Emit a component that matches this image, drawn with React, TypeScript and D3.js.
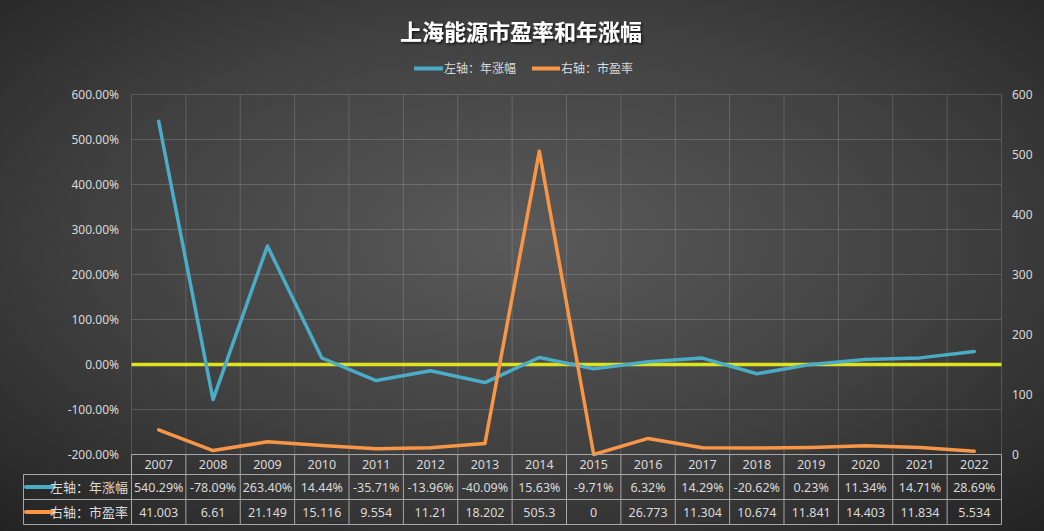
import React from 'react';
import * as d3 from 'd3';

const years = ['2007', '2008', '2009', '2010', '2011', '2012', '2013', '2014', '2015', '2016', '2017', '2018', '2019', '2020', '2021', '2022'];
// 左轴：年涨幅 (%)
const yoy = [540.29, -78.09, 263.4, 14.44, -35.71, -13.96, -40.09, 15.63, -9.71, 6.32, 14.29, -20.62, 0.23, 11.34, 14.71, 28.69];
// 右轴：市盈率
const pe = [41.003, 6.61, 21.149, 15.116, 9.554, 11.21, 18.202, 505.3, 0, 26.773, 11.304, 10.674, 11.841, 14.403, 11.834, 5.534];
const leftTicks = [-200, -100, 0, 100, 200, 300, 400, 500, 600];
const rightTicks = [0, 100, 200, 300, 400, 500, 600];
const seriesNames = ['左轴：年涨幅', '右轴：市盈率'];

const W = 1044;
const H = 531;
const plot = { left: 131.5, right: 1001.5, top: 94.5, bottom: 454.5 };
const rowH = [20, 25, 25];
const tableLeft = 23.5;

const BLUE = '#4bacc6';
const ORANGE = '#f79646';
const YELLOW = '#dde31f';
const TXT = '#d9d9d9';
const GRID = 'rgba(255,255,255,0.16)';
const FONT = '"Noto Sans", "Noto Sans CJK SC", sans-serif';

const App: React.FC = () => {
  const x = d3.scaleBand<string>().domain(years).range([plot.left, plot.right]);
  const yL = d3.scaleLinear().domain([-200, 600]).range([plot.bottom, plot.top]);
  const yR = d3.scaleLinear().domain([0, 600]).range([plot.bottom, plot.top]);
  const cx = (d: string) => (x(d) as number) + x.bandwidth() / 2;

  const blueLine = d3.line<number>().x((_, i) => cx(years[i])).y(d => yL(d))(yoy) as string;
  const orangeLine = d3.line<number>().x((_, i) => cx(years[i])).y(d => yR(d))(pe) as string;

  // plain hyphen minus, like the original
  const fmtPct = (v: number) => v.toFixed(2) + '%';
  const r0 = plot.bottom;
  const r1 = r0 + rowH[0];
  const r2 = r1 + rowH[1];
  const r3 = r2 + rowH[2];

  const rows = [
    { name: seriesNames[0], color: BLUE, labels: yoy.map(fmtPct), top: r1 },
    { name: seriesNames[1], color: ORANGE, labels: pe.map(v => String(v)), top: r2 },
  ];

  return (
    <div style={{ position: 'absolute', left: 0, top: 0 }}>
      <svg width={W} height={H} style={{ display: 'block', fontFamily: FONT }}>
        <defs>
          <radialGradient id="bg" cx="50%" cy="45%" r="75%">
            <stop offset="0%" stopColor="#5a5a5a" />
            <stop offset="55%" stopColor="#404040" />
            <stop offset="100%" stopColor="#222222" />
          </radialGradient>
          <filter id="tshadow" x="-10%" y="-30%" width="120%" height="160%">
            <feDropShadow dx="1.5" dy="1.5" stdDeviation="1.2" floodColor="#000" floodOpacity="0.7" />
          </filter>
        </defs>
        <rect width={W} height={H} fill="url(#bg)" />

        {/* title */}
        <text x={521} y={40} textAnchor="middle" fill="#ffffff" fontSize={22} fontWeight={700}
          fontFamily='"Noto Sans CJK SC", sans-serif' filter="url(#tshadow)">上海能源市盈率和年涨幅</text>

        {/* legend */}
        <g fontSize={12} fill={TXT} fontFamily='"Noto Sans CJK SC", sans-serif'>
          <line x1={414} x2={443} y1={68.5} y2={68.5} stroke={BLUE} strokeWidth={4} />
          <text x={444} y={73}>{seriesNames[0]}</text>
          <line x1={532} x2={560} y1={68.5} y2={68.5} stroke={ORANGE} strokeWidth={4} />
          <text x={561} y={73}>{seriesNames[1]}</text>
        </g>

        {/* grid */}
        <g stroke={GRID} strokeWidth={1}>
          {leftTicks.map(t => (
            <line key={'h' + t} x1={plot.left} x2={plot.right} y1={yL(t)} y2={yL(t)} />
          ))}
          {years.map(d => (
            <line key={'v' + d} x1={x(d) as number} x2={x(d) as number} y1={plot.top} y2={plot.bottom} />
          ))}
          <line x1={plot.right} x2={plot.right} y1={plot.top} y2={plot.bottom} />
        </g>

        {/* left axis */}
        <g fontSize={12} fill={TXT} textAnchor="end">
          {leftTicks.map(t => (
            <text key={t} x={119} y={yL(t) + 4}>{fmtPct(t)}</text>
          ))}
        </g>
        {/* right axis */}
        <g fontSize={12} fill={TXT} textAnchor="start">
          {rightTicks.map(t => (
            <text key={t} x={1012} y={yR(t) + 4}>{t}</text>
          ))}
        </g>

        {/* zero line */}
        <line x1={plot.left} x2={plot.right} y1={yL(0)} y2={yL(0)} stroke={YELLOW} strokeWidth={3.5} />

        {/* series */}
        <path d={blueLine} fill="none" stroke={BLUE} strokeWidth={3.5} strokeLinejoin="round" strokeLinecap="round" />
        <path d={orangeLine} fill="none" stroke={ORANGE} strokeWidth={3.5} strokeLinejoin="round" strokeLinecap="round" />

        {/* data table */}
        <g stroke="#a6a6a6" strokeWidth={1} fill="none">
          <line x1={plot.left} x2={plot.right} y1={r0} y2={r0} />
          <line x1={tableLeft} x2={plot.right} y1={r1} y2={r1} />
          <line x1={tableLeft} x2={plot.right} y1={r2} y2={r2} />
          <line x1={tableLeft} x2={plot.right} y1={r3} y2={r3} />
          <line x1={tableLeft} x2={tableLeft} y1={r1} y2={r3} />
          {years.map(d => (
            <line key={'tv' + d} x1={x(d) as number} x2={x(d) as number} y1={r0} y2={r3} />
          ))}
          <line x1={plot.right} x2={plot.right} y1={r0} y2={r3} />
        </g>
        <g fontSize={12.5} fill={TXT} textAnchor="middle">
          {years.map(d => (
            <text key={'y' + d} x={cx(d)} y={r0 + rowH[0] / 2 + 4.5}>{d}</text>
          ))}
          {rows.map(row =>
            row.labels.map((lab, i) => (
              <text key={row.name + i} x={cx(years[i])} y={row.top + 12.5 + 4.5}>{lab}</text>
            ))
          )}
        </g>
        {rows.map(row => (
          <g key={row.name}>
            <line x1={26} x2={54} y1={row.top + 12.5} y2={row.top + 12.5} stroke={row.color} strokeWidth={4} strokeLinecap="round" />
            <text x={128} y={row.top + 12.5 + 4.5} textAnchor="end" fontSize={13} fill={TXT}
              fontFamily='"Noto Sans CJK SC", sans-serif'>{row.name}</text>
          </g>
        ))}
      </svg>
    </div>
  );
};

export default App;
